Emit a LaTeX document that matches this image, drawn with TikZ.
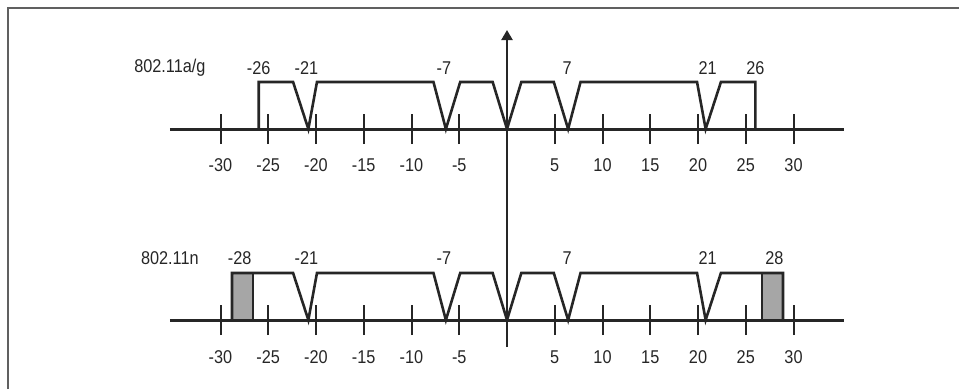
\documentclass[tikz,border=0pt]{standalone}
\usepackage{fontspec}
\setmainfont{Liberation Sans}[FakeStretch=0.88]
\usetikzlibrary{positioning}
\usetikzlibrary{arrows.meta}

\begin{document}
\begin{tikzpicture}[x=1pt,y=-1pt,
  lbl/.style={font=\fontsize{18.5}{18.5}\selectfont,inner sep=0pt,text=black!85},
  frameline/.style={draw=gray!75!black,line width=2pt},
  axisline/.style={line width=3pt,draw=black!85},
  tickline/.style={line width=2pt,draw=black!85},
  spec/.style={line width=2.6pt,line join=miter,draw=black!85},
  pilot/.style={draw=black!85,line width=2pt,fill=gray!70}]
\useasboundingbox (0,0) rectangle (959,389);
\draw[frameline] (8,389) -- (8,8) -- (959,8);

% vertical axis through the centre carrier
\coordinate (vtop) at (507,30);
\coordinate (vbot) at (507,347);
\draw[line width=2.2pt,draw=black!85,-{Triangle[length=10pt,width=11pt]}] (vbot) -- (vtop);

% 802.11a/g
\begin{scope}[xshift=507pt,yshift=-129pt,x=9.55pt,y=1pt]
  \coordinate (agL) at (-35.3,0);
  \coordinate (agR) at (35.3,0);
  \draw[axisline] (agL) -- (agR);
  \foreach \t in {-30,-25,-20,-15,-10,-5,5,10,15,20,25,30} {
    \draw[tickline] (\t,-15) -- (\t,15);
    \node[lbl] (ag\t) at (\t,-36) {\t};
  }
  \draw[spec] (-26,0) -- (-26,47) -- (-22.4,47) -- (-20.8,0) -- (-19.9,47)
    -- (-7.7,47) -- (-6.4,0) -- (-4.9,47) -- (-1.5,47) -- (0,0) -- (1.5,47)
    -- (4.9,47) -- (6.4,0) -- (7.7,47) -- (19.9,47) -- (20.8,0) -- (22.4,47)
    -- (26,47) -- (26,0);
  \node[lbl] (agname) at (-35.3,61) {802.11a/g};
  \node[lbl] (agm26) at (-26,61) {-26};
  \node[lbl] (agm21) at (-21,61) {-21};
  \node[lbl] (agm7) at (-6.6,61) {-7};
  \node[lbl] (agp7) at (6.3,61) {7};
  \node[lbl] (agp21) at (21,61) {21};
  \node[lbl] (agp26) at (26,61) {26};
\end{scope}

% 802.11n
\begin{scope}[xshift=507pt,yshift=-320pt,x=9.55pt,y=1pt]
  \coordinate (nL) at (-35.3,0);
  \coordinate (nR) at (35.3,0);
  \draw[axisline] (nL) -- (nR);
  \foreach \t in {-30,-25,-20,-15,-10,-5,5,10,15,20,25,30} {
    \draw[tickline] (\t,-15) -- (\t,15);
    \node[lbl] (n\t) at (\t,-37) {\t};
  }
  \draw[pilot] (-28.8,0) rectangle (-26.6,47);
  \draw[pilot] (26.7,0) rectangle (28.9,47);
  \draw[spec] (-28.8,0) -- (-28.8,47) -- (-22.4,47) -- (-20.8,0) -- (-19.9,47)
    -- (-7.7,47) -- (-6.4,0) -- (-4.9,47) -- (-1.5,47) -- (0,0) -- (1.5,47)
    -- (4.9,47) -- (6.4,0) -- (7.7,47) -- (19.9,47) -- (20.8,0) -- (22.4,47)
    -- (28.9,47) -- (28.9,0);
  \node[lbl] (nname) at (-35.3,62) {802.11n};
  \node[lbl] (nm28) at (-28,62) {-28};
  \node[lbl] (nm21) at (-21,62) {-21};
  \node[lbl] (nm7) at (-6.6,62) {-7};
  \node[lbl] (np7) at (6.3,62) {7};
  \node[lbl] (np21) at (21,62) {21};
  \node[lbl] (np28) at (28,62) {28};
\end{scope}
\end{tikzpicture}
\end{document}
